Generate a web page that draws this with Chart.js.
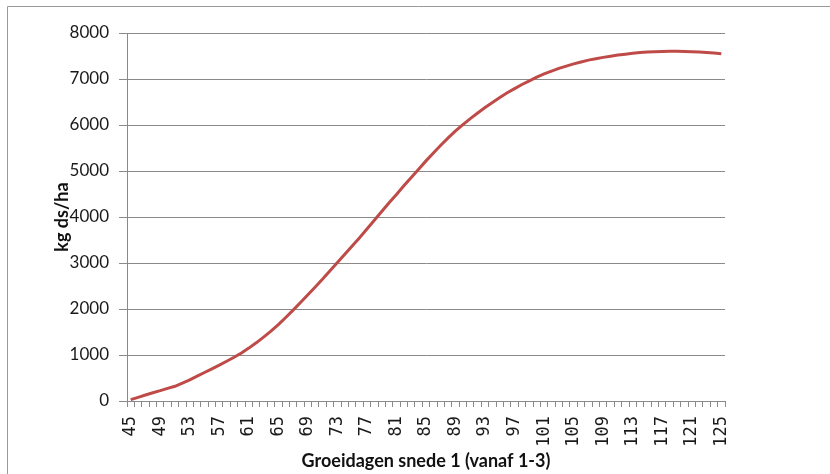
<!DOCTYPE html>
<html>
<head>
<meta charset="utf-8">
<script src="https://cdn.jsdelivr.net/npm/chart.js@4/dist/chart.umd.min.js"></script>
<style>
  html, body { margin: 0; padding: 0; background: #ffffff; }
  #wrap { position: relative; width: 830px; height: 474px; }
</style>
</head>
<body>
<div id="wrap"><canvas id="c" width="830" height="474"></canvas></div>
<script>
// Growth days of cut 1 (counted from 1 March)
const days = [];
for (let d = 45; d <= 125; d++) days.push(String(d));

// Dry-matter yield, kg ds/ha, one value per growth day
const yieldKg = [
  30, 80, 130, 180, 225, 275, 320, 390, 460, 540,        // 45-54
  620, 700, 780, 865, 950, 1045, 1150, 1265, 1390, 1520, // 55-64
  1660, 1815, 1975, 2140, 2310, 2480, 2650, 2830, 3010, 3190, // 65-74
  3370, 3550, 3740, 3930, 4120, 4310, 4490, 4680, 4860, 5040, // 75-84
  5220, 5390, 5560, 5720, 5870, 6010, 6140, 6260, 6380, 6490, // 85-94
  6600, 6700, 6790, 6880, 6960, 7040, 7110, 7170, 7230, 7280, // 95-104
  7330, 7370, 7410, 7440, 7470, 7495, 7520, 7540, 7560, 7575, // 105-114
  7585, 7595, 7600, 7605, 7605, 7600, 7595, 7585, 7575, 7565, // 115-124
  7550                                                       // 125
];

// Y-axis ticks
const yTicks = [0, 1000, 2000, 3000, 4000, 5000, 6000, 7000, 8000];

const gridGray = '#8a8a8a';
const textFont = 'Lato, "Open Sans", sans-serif';

// thin frame along the top and left of the drawing
const framePlugin = {
  id: 'frame',
  beforeDraw(chart) {
    const ctx = chart.ctx;
    ctx.save();
    ctx.fillStyle = '#ffffff';
    ctx.fillRect(0, 0, chart.width, chart.height);
    ctx.strokeStyle = '#9a9a9a';
    ctx.lineWidth = 1;
    ctx.beginPath();
    ctx.moveTo(7.5, chart.height);
    ctx.lineTo(7.5, 6.5);
    ctx.lineTo(chart.width, 6.5);
    ctx.stroke();
    ctx.restore();
  }
};

new Chart(document.getElementById('c'), {
  type: 'line',
  data: {
    labels: days,
    datasets: [{
      label: 'kg ds/ha',
      data: yieldKg,
      borderColor: '#be4b48',
      backgroundColor: '#be4b48',
      borderWidth: 3,
      pointRadius: 0,
      tension: 0,
      fill: false
    }]
  },
  options: {
    responsive: false,
    animation: false,
    layout: { padding: { left: 0, right: 105, top: 33, bottom: 0 } },
    plugins: {
      legend: { display: false },
      tooltip: { enabled: false }
    },
    scales: {
      x: {
        type: 'category',
        offset: true,
        grid: {
          offset: true,
          drawOnChartArea: false,
          drawTicks: true,
          tickLength: 6,
          color: gridGray
        },
        border: { display: true, color: gridGray, width: 1 },
        ticks: {
          autoSkip: false,
          maxRotation: 90,
          minRotation: 90,
          padding: 9,
          color: '#1a1a1a',
          font: { family: '"DejaVu Sans Mono", monospace', size: 17 },
          callback: function (value, index) {
            return index % 4 === 0 ? days[index] : '';
          }
        },
        title: {
          display: true,
          text: 'Groeidagen snede 1 (vanaf 1-3)',
          color: '#111111',
          font: { family: textFont, size: 18, weight: 'bold' },
          padding: { top: 0, bottom: 2 }
        },
        afterFit(scale) { scale.height = 73; }
      },
      y: {
        min: 0,
        max: 8000,
        afterBuildTicks(scale) {
          scale.ticks = yTicks.map(v => ({ value: v }));
        },
        grid: {
          color: gridGray,
          tickLength: 8,
          drawTicks: true
        },
        border: { display: true, color: gridGray, width: 1 },
        ticks: {
          padding: 10,
          color: '#1a1a1a',
          font: { family: textFont, size: 17 },
          callback: function (value) { return String(value); }
        },
        title: {
          display: true,
          text: 'kg ds/ha',
          color: '#111111',
          font: { family: textFont, size: 18, weight: 'bold' },
          padding: { top: 51, bottom: 0 }
        },
        afterFit(scale) { scale.width = 127; }
      }
    }
  },
  plugins: [framePlugin]
});
</script>
</body>
</html>
